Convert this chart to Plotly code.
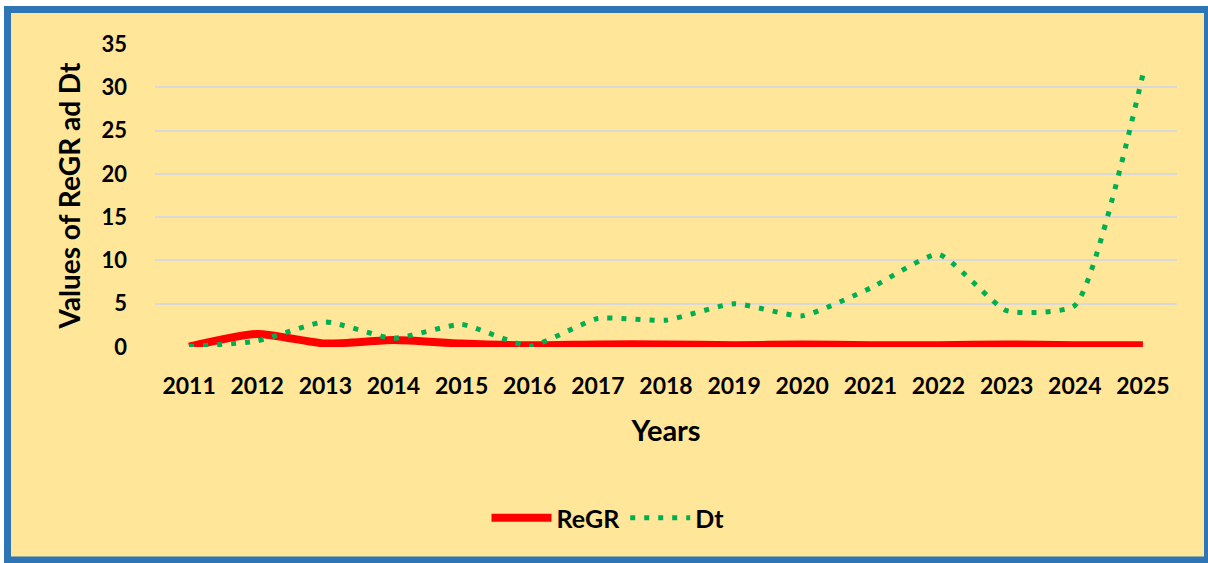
import plotly.graph_objects as go

years = ["2011", "2012", "2013", "2014", "2015", "2016", "2017", "2018",
         "2019", "2020", "2021", "2022", "2023", "2024", "2025"]
regr = [0.05, 1.5, 0.4, 0.8, 0.4, 0.2, 0.3, 0.3, 0.2, 0.3, 0.2, 0.2, 0.3, 0.2, 0.2]
dt = [0.05, 0.7, 2.9, 1.0, 2.6, 0.1, 3.3, 3.1, 5.0, 3.6, 6.8, 10.7, 4.2, 4.8, 31.5]
y_ticks = [0, 5, 10, 15, 20, 25, 30, 35]

FONT = "Lato"
L, R, T, B = 155, 31, 44, 216
W, H = 1208, 563
pw, ph = W - L - R, H - T - B

def px_x(p):
    return (p - L) / pw

def px_y(p):
    return (H - B - p) / ph

fig = go.Figure()
fig.add_trace(go.Scatter(x=years, y=regr, name="ReGR", mode="lines",
                         line=dict(color="#FF0000", width=8, shape="spline", smoothing=0.6)))
fig.add_trace(go.Scatter(x=years, y=dt, name="Dt", mode="lines",
                         line=dict(color="#00B050", width=5, dash="5px,9px", shape="spline", smoothing=0.5)))

fig.add_shape(type="rect", xref="paper", yref="paper", layer="below",
              x0=px_x(7.5), x1=px_x(1207.5), y0=px_y(560), y1=px_y(9.5),
              line=dict(color="#2E75B6", width=7), fillcolor="#FFE699")

fig.update_layout(
    width=W, height=H,
    margin=dict(l=L, r=R, t=T, b=B, autoexpand=False),
    paper_bgcolor="white", plot_bgcolor="rgba(0,0,0,0)",
    font=dict(family=FONT, color="black"),
    showlegend=True,
    legend=dict(orientation="h", x=px_x(608), xanchor="center", y=px_y(518), yanchor="middle",
                font=dict(size=25, family=FONT, weight="bold"), bgcolor="rgba(0,0,0,0)",
                itemwidth=60),
    xaxis=dict(type="category", range=[-0.5, len(years) - 0.5], showgrid=False, showline=False, ticks="",
               tickfont=dict(size=23, family=FONT, weight="bold"),
               ticklabelstandoff=23,
               title=dict(text="Years", font=dict(size=29, family=FONT, weight="bold"), standoff=22),
               automargin=False),
    yaxis=dict(range=[0, 35], tickvals=y_ticks, showgrid=True, gridcolor="#D9D9D9", gridwidth=2,
               zeroline=False, showline=False, ticks="",
               tickfont=dict(size=22, family=FONT, weight="bold"),
               ticklabelstandoff=27,
               title=dict(text="Values of ReGR ad Dt", font=dict(size=28, family=FONT, weight="bold"),
                          standoff=12),
               automargin=False),
)

fig.write_html("out.html", config={"displayModeBar": False},
               post_script="document.body.style.margin='0';")
